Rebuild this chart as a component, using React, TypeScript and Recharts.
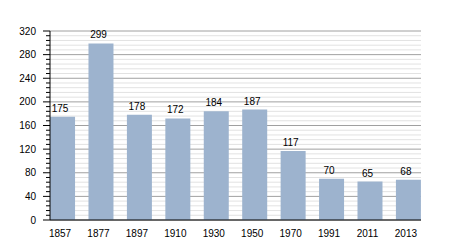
import React from "react";
import { BarChart, Bar, XAxis, YAxis, CartesianGrid, LabelList } from "recharts";

const years = ["1857", "1877", "1897", "1910", "1930", "1950", "1970", "1991", "2011", "2013"];
const population = [175, 299, 178, 172, 184, 187, 117, 70, 65, 68];
const yTicks = [0, 8, 16, 24, 32, 40, 48, 56, 64, 72, 80, 88, 96, 104, 112, 120, 128, 136, 144, 152, 160, 168, 176, 184, 192, 200, 208, 216, 224, 232, 240, 248, 256, 264, 272, 280, 288, 296, 304, 312, 320];
const majorStep = 40;

const data = years.map((y, i) => ({ year: y, value: population[i] }));

const FONT = "'Liberation Sans', Arial, sans-serif";
const AXIS_X = 50;

const YTick = (props: any) => {
  const { y, payload } = props;
  const v = payload.value as number;
  const major = v % majorStep === 0;
  return (
    <g>
      <line x1={AXIS_X - (major ? 7 : 4)} x2={AXIS_X} y1={y} y2={y} stroke="#000" strokeWidth={1} />
      {major && (
        <text x={36} y={y} dy="0.35em" textAnchor="end" fontSize={10} fontFamily={FONT} fill="#000">
          {v}
        </text>
      )}
    </g>
  );
};

const XTick = (props: any) => {
  const { x, y, payload } = props;
  return (
    <text x={x - 2.5} y={y + 14.5} textAnchor="middle" fontSize={10} fontFamily={FONT} fill="#000">
      {payload.value}
    </text>
  );
};

const GridLine = (props: any) => {
  const { x1, x2, y1, y2, index } = props;
  const major = index % 5 === 0;
  return (
    <line
      key={`g-${index}`}
      x1={x1}
      x2={x2}
      y1={y1}
      y2={y2}
      stroke={major ? "#a0a0a0" : "#e2e2e2"}
      strokeWidth={1}
    />
  );
};

const BarLabel = (props: any) => {
  const { x, y, width, value } = props;
  return (
    <text x={x + width / 2 - 2.5} y={y - 5} textAnchor="middle" fontSize={10} fontFamily={FONT} fill="#000">
      {value}
    </text>
  );
};

export default function App() {
  return (
    <div style={{ position: "absolute", left: 0, top: 0, width: 450, height: 250, background: "#fff" }}>
      <BarChart
        width={450}
        height={250}
        data={data}
        margin={{ top: 31, right: 29, left: 0, bottom: 0 }}
        barCategoryGap={6.7}
      >
        <CartesianGrid vertical={false} horizontal={GridLine} />
        <XAxis
          dataKey="year"
          height={30}
          tickSize={0}
          tickLine={false}
          axisLine={{ stroke: "#000", strokeWidth: 1 }}
          padding={{ left: -6.65, right: -6.65 }}
          tick={XTick}
          interval={0}
        />
        <YAxis
          width={50}
          domain={[0, 320]}
          ticks={yTicks}
          interval={0}
          tickLine={false}
          axisLine={{ stroke: "#000", strokeWidth: 1 }}
          tick={YTick}
        />
        <Bar dataKey="value" fill="#9db3ce" isAnimationActive={false}>
          <LabelList dataKey="value" content={BarLabel} />
        </Bar>
      </BarChart>
    </div>
  );
}
